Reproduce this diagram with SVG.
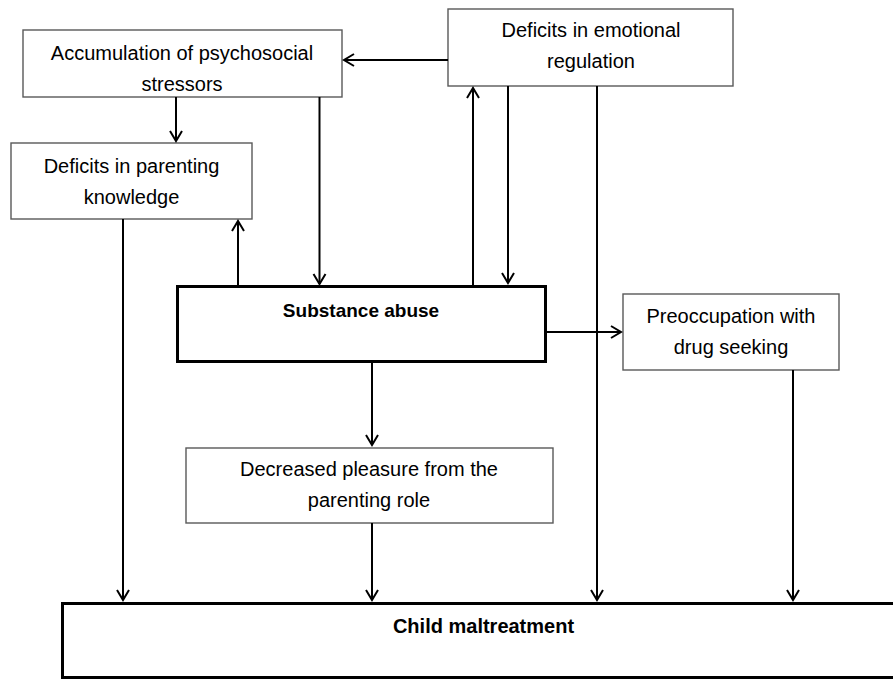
<svg xmlns="http://www.w3.org/2000/svg" width="893" height="680" viewBox="0 0 893 680">
<defs>
<marker id="arr" markerUnits="userSpaceOnUse" markerWidth="16" markerHeight="16" viewBox="-12 -8 14 16" refX="0" refY="0" orient="auto">
<path d="M-10,-6 L0,0 L-10,6" fill="none" stroke="#000" stroke-width="2"/>
</marker>
<style>
.box{fill:#fff;stroke:#595959;stroke-width:1.4}
.tbox{fill:#fff;stroke:#000;stroke-width:3}
.t{font-family:"Liberation Sans",Arial,sans-serif;font-size:20px;fill:#000;text-anchor:middle}
.b{font-weight:bold}
.c{stroke:#000;stroke-width:2;fill:none;marker-end:url(#arr)}
</style>
</defs>
<rect width="893" height="680" fill="#fff"/>
<g id="nodes">
<g id="accumulation">
<rect class="box" x="23" y="30" width="319" height="67"/>
<text class="t" x="182" y="60">Accumulation of psychosocial</text>
<text class="t" x="182" y="91">stressors</text>
</g>
<g id="emotional">
<rect class="box" x="448" y="9" width="285" height="77"/>
<text class="t" x="591" y="37">Deficits in emotional</text>
<text class="t" x="591" y="68">regulation</text>
</g>
<g id="parenting">
<rect class="box" x="11" y="143" width="241" height="76"/>
<text class="t" x="131.5" y="173">Deficits in parenting</text>
<text class="t" x="131.5" y="204">knowledge</text>
</g>
<g id="substance">
<rect class="tbox" x="177.5" y="286.5" width="368" height="75"/>
<text class="t b" x="361" y="317" style="font-size:19px">Substance abuse</text>
</g>
<g id="preoccupation">
<rect class="box" x="623" y="294" width="216" height="76"/>
<text class="t" x="731" y="323">Preoccupation with</text>
<text class="t" x="731" y="354">drug seeking</text>
</g>
<g id="decreased">
<rect class="box" x="186" y="448" width="367" height="75"/>
<text class="t" x="369" y="476">Decreased pleasure from the</text>
<text class="t" x="369" y="507">parenting role</text>
</g>
<g id="child">
<rect class="tbox" x="62.5" y="603.5" width="840" height="74"/>
<text class="t b" x="483.5" y="633">Child maltreatment</text>
</g>
</g>
<g id="connectors">
<line class="c" x1="448" y1="60" x2="344" y2="60" transform=""/>
<line class="c" x1="176" y1="97" x2="176" y2="141"/>
<line class="c" x1="319.5" y1="97" x2="319.5" y2="284"/>
<line class="c" x1="238" y1="286" x2="238" y2="221"/>
<line class="c" x1="473" y1="286" x2="473" y2="88"/>
<line class="c" x1="508" y1="86" x2="508" y2="283"/>
<line class="c" x1="597" y1="86" x2="597" y2="600"/>
<line class="c" x1="123" y1="219" x2="123" y2="600"/>
<line class="c" x1="546" y1="332" x2="621" y2="332"/>
<line class="c" x1="372" y1="362" x2="372" y2="445"/>
<line class="c" x1="372" y1="523" x2="372" y2="600"/>
<line class="c" x1="793" y1="370" x2="793" y2="600"/>
</g>
</svg>
